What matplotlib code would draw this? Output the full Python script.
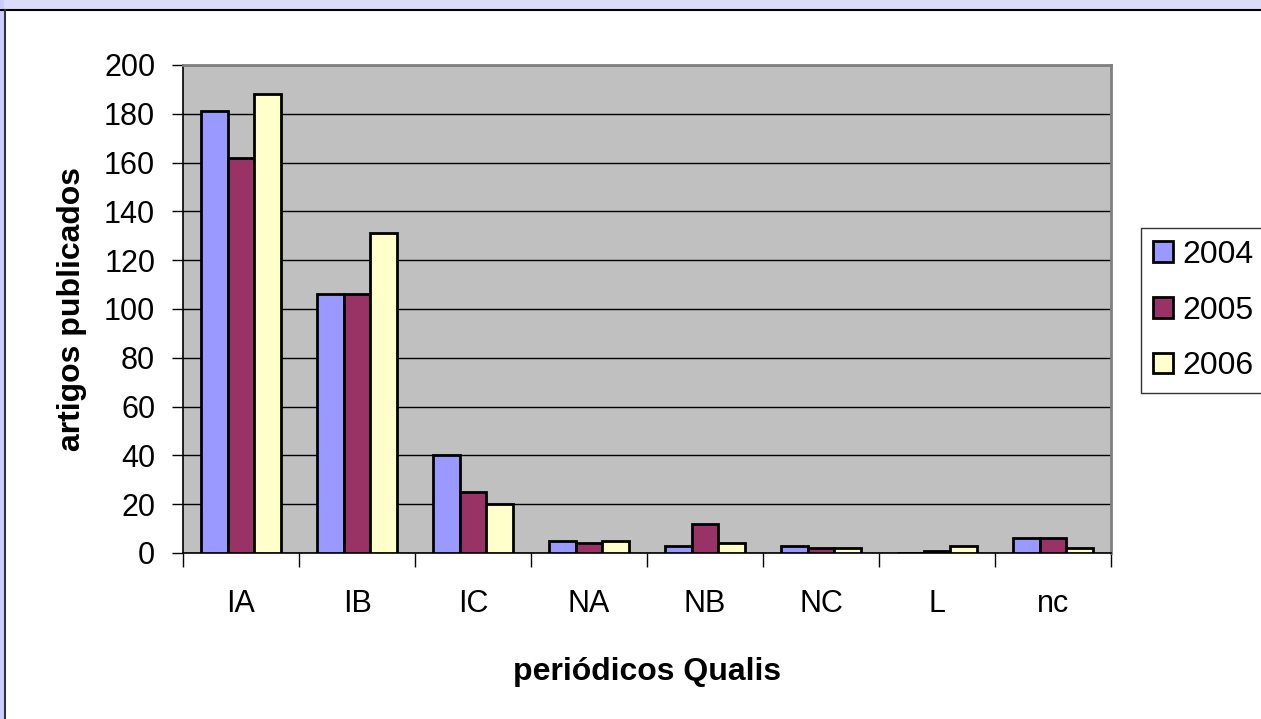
import matplotlib
matplotlib.use("Agg")
import matplotlib.pyplot as plt
import numpy as np
from matplotlib.patches import Rectangle
from matplotlib.lines import Line2D

categories = ["IA", "IB", "IC", "NA", "NB", "NC", "L", "nc"]
series_names = ["2004", "2005", "2006"]
v2004 = [181, 106, 40, 5, 3, 3, 0, 6]
v2005 = [162, 106, 25, 4, 12, 2, 1, 6]
v2006 = [188, 131, 20, 5, 4, 2, 3, 2]
colors = ["#9999FF", "#993366", "#FFFFCC"]
yticks = [0, 20, 40, 60, 80, 100, 120, 140, 160, 180, 200]

plt.rcParams['font.family'] = ['Liberation Sans', 'DejaVu Sans']

W, H = 1261, 719
fig = plt.figure(figsize=(W/100, H/100), dpi=100)
fig.patch.set_facecolor("white")

# slide frame strips
fig.add_artist(Rectangle((0, 1 - 9/H), 1, 9/H, transform=fig.transFigure,
                         facecolor="#DCDCF8", edgecolor="none", zorder=0))
fig.add_artist(Rectangle((0, 0), 4/W, 1, transform=fig.transFigure,
                         facecolor="#CCCCFF", edgecolor="none", zorder=0))
fig.add_artist(Line2D([0, 1], [1 - 9.5/H, 1 - 9.5/H], transform=fig.transFigure,
                      color="black", lw=1.5))
fig.add_artist(Line2D([5/W, 5/W], [0, 1 - 9.5/H], transform=fig.transFigure,
                      color="#333333", lw=1.5))

left, right, bottom, top = 183/W, 1111/W, 1 - 553/H, 1 - 65/H
ax = fig.add_axes([left, bottom, right - left, top - bottom])
ax.set_facecolor("#C0C0C0")

x = np.arange(len(categories))
bw = 0.23
for i, (vals, c, name) in enumerate(zip([v2004, v2005, v2006], colors, series_names)):
    ax.bar(x + (i - 1) * bw, vals, width=bw, color=c, edgecolor="black",
           linewidth=2, label=name, zorder=3)

ax.set_xlim(-0.5, len(categories) - 0.5)
ax.set_ylim(0, 200)
ax.set_yticks(yticks)
ax.set_yticklabels([str(t) for t in yticks], fontsize=22)
ax.yaxis.grid(True, color="black", lw=1)
ax.set_axisbelow(True)

ax.set_xticks(x)
ax.set_xticklabels(categories, fontsize=22)
ax.set_xticks(np.arange(-0.5, len(categories) + 0.5, 1), minor=True)
ax.tick_params(axis="x", which="major", length=0, pad=26)
ax.tick_params(axis="x", which="minor", length=10, width=1, color="black", direction="out")
ax.tick_params(axis="y", length=8, width=1, direction="out", pad=12)

for s in ["left", "bottom"]:
    ax.spines[s].set_color("black")
    ax.spines[s].set_linewidth(1.2)
for s in ["top", "right"]:
    ax.spines[s].set_color("#808080")
    ax.spines[s].set_linewidth(2)

ax.set_ylabel("artigos publicados", fontsize=23, fontweight="bold", labelpad=12)
ax.set_xlabel("periódicos Qualis", fontsize=23, fontweight="bold", labelpad=27)

leg = fig.legend(loc="upper left", bbox_to_anchor=(1141/W, 1 - 228/H),
                 fontsize=23, frameon=True, fancybox=False, edgecolor="black",
                 handlelength=0.63, handleheight=0.63, handletextpad=0.3,
                 labelspacing=0.8, borderpad=0.38, borderaxespad=0)
leg.get_frame().set_linewidth(1)
for h in leg.legend_handles:
    h.set_linewidth(2)

fig.savefig("out.png", dpi=100)
